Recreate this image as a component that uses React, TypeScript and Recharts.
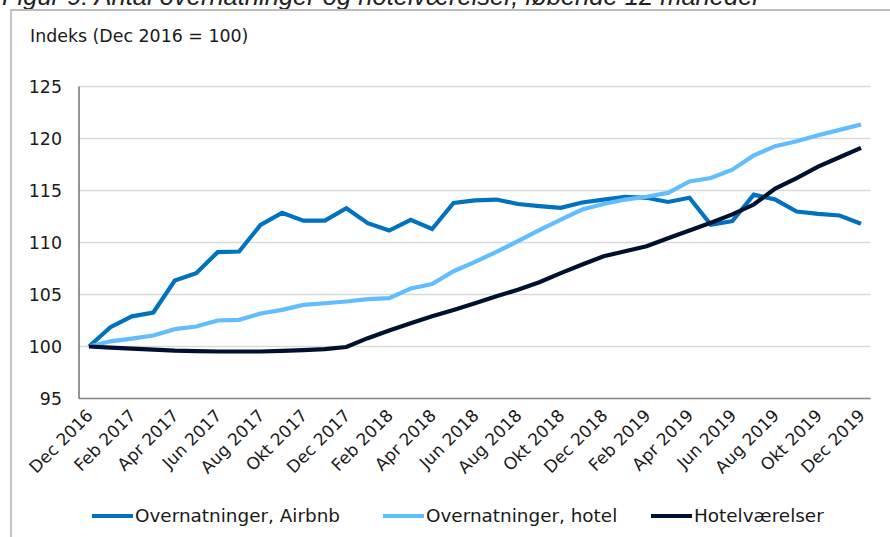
import React from "react";
import { LineChart, Line, XAxis, YAxis, CartesianGrid } from "recharts";

const months = [
  "Dec 2016", "Jan 2017", "Feb 2017", "Mar 2017", "Apr 2017", "Maj 2017", "Jun 2017", "Jul 2017",
  "Aug 2017", "Sep 2017", "Okt 2017", "Nov 2017", "Dec 2017", "Jan 2018", "Feb 2018", "Mar 2018",
  "Apr 2018", "Maj 2018", "Jun 2018", "Jul 2018", "Aug 2018", "Sep 2018", "Okt 2018", "Nov 2018",
  "Dec 2018", "Jan 2019", "Feb 2019", "Mar 2019", "Apr 2019", "Maj 2019", "Jun 2019", "Jul 2019",
  "Aug 2019", "Sep 2019", "Okt 2019", "Nov 2019", "Dec 2019",
];

const airbnb = [
  100, 101.86, 102.9, 103.27, 106.35, 107.05, 109.07, 109.13, 111.7, 112.85, 112.1, 112.1, 113.3,
  111.86, 111.15, 112.18, 111.3, 113.8, 114.05, 114.13, 113.7, 113.5, 113.33, 113.85, 114.13, 114.4,
  114.3, 113.9, 114.3, 111.7, 112.05, 114.6, 114.13, 112.98, 112.75, 112.6, 111.8,
];

const hotel = [
  100, 100.5, 100.75, 101.06, 101.67, 101.92, 102.5, 102.56, 103.17, 103.52, 104.0, 104.16, 104.33,
  104.55, 104.65, 105.58, 106.0, 107.24, 108.14, 109.1, 110.13, 111.2, 112.2, 113.17, 113.7, 114.13,
  114.4, 114.77, 115.87, 116.2, 117.0, 118.37, 119.26, 119.74, 120.32, 120.83, 121.35,
];

const rooms = [
  100, 99.9, 99.8, 99.7, 99.6, 99.55, 99.52, 99.52, 99.52, 99.58, 99.65, 99.75, 99.95, 100.8, 101.54,
  102.24, 102.92, 103.52, 104.16, 104.84, 105.45, 106.18, 107.05, 107.88, 108.68, 109.16, 109.64,
  110.41, 111.15, 111.9, 112.7, 113.65, 115.19, 116.2, 117.3, 118.2, 119.1,
];

const yTicks = [95, 100, 105, 110, 115, 120, 125];

const seriesNames = ["Overnatninger, Airbnb", "Overnatninger, hotel", "Hotelværelser"];
const seriesColors = ["#0072BF", "#62BDFF", "#00102F"];

const title = "Figur 9: Antal overnatninger og hotelværelser, løbende 12 måneder";
const axisTitle = "Indeks (Dec 2016 = 100)";

const data = months.map((m, i) => ({ m, a: airbnb[i], h: hotel[i], r: rooms[i] }));

const FONT = "'DejaVu Sans', sans-serif";

const XTick = (props: any) => {
  const { x, y, payload } = props;
  return (
    <text
      x={x + 5}
      y={y + 10}
      transform={`rotate(-45 ${x + 5} ${y + 10})`}
      textAnchor="end"
      fontFamily={FONT}
      fontSize={17}
      fill="#1a1a1a"
    >
      {payload.value}
    </text>
  );
};

const YTick = (props: any) => {
  const { y, payload } = props;
  return (
    <text x={62} y={y + 6} textAnchor="end" fontFamily={FONT} fontSize={17.4} fill="#1a1a1a">
      {payload.value}
    </text>
  );
};

const legendPos = [92, 383, 651];

export default function App() {
  return (
    <div style={{ position: "absolute", left: 0, top: 0, width: 890, height: 537, background: "#fff", overflow: "hidden" }}>
      <div
        style={{
          position: "absolute",
          left: 2,
          top: -16,
          fontFamily: "'Liberation Sans', Arial, sans-serif",
          fontStyle: "italic",
          fontSize: 25.5,
          lineHeight: "25px",
          color: "#222",
          whiteSpace: "nowrap",
        }}
      >
        {title}
      </div>
      <div style={{ position: "absolute", left: 10, top: 9, width: 880, height: 2, background: "#BDBDBD" }} />
      <div style={{ position: "absolute", left: 10, top: 9, width: 1.5, height: 528, background: "#C4C4C4" }} />
      <div
        style={{
          position: "absolute",
          left: 30,
          top: 26,
          fontFamily: FONT,
          fontSize: 17.4,
          lineHeight: "20px",
          color: "#1a1a1a",
          whiteSpace: "nowrap",
        }}
      >
        {axisTitle}
      </div>
      <div style={{ position: "absolute", left: 0, top: 0 }}>
        <LineChart width={890} height={537} data={data} margin={{ top: 86.5, right: 19.5, bottom: 0, left: 0 }}>
          <CartesianGrid horizontal vertical={false} stroke="#D9D9D9" strokeWidth={1.3} />
          <XAxis
            dataKey="m"
            interval={1}
            padding={{ left: 10, right: 9.5 }}
            tickLine={false}
            axisLine={{ stroke: "#8C8C8C", strokeWidth: 1.5 }}
            tick={<XTick />}
            height={138.5}
          />
          <YAxis
            domain={[95, 125]}
            ticks={yTicks}
            width={79}
            tickLine={false}
            axisLine={{ stroke: "#5A5A5A", strokeWidth: 1.3 }}
            tick={<YTick />}
          />
          <Line dataKey="a" stroke={seriesColors[0]} strokeWidth={4.2} dot={false} isAnimationActive={false} />
          <Line dataKey="h" stroke={seriesColors[1]} strokeWidth={4.2} dot={false} isAnimationActive={false} />
          <Line dataKey="r" stroke={seriesColors[2]} strokeWidth={4.2} dot={false} isAnimationActive={false} />
        </LineChart>
      </div>
      {seriesNames.map((n, i) => (
        <div
          key={n}
          style={{
            position: "absolute",
            left: legendPos[i],
            top: 505,
            height: 22,
            display: "flex",
            alignItems: "center",
            whiteSpace: "nowrap",
          }}
        >
          <div style={{ width: 41, height: 4, background: seriesColors[i], marginRight: 2 }} />
          <span style={{ fontFamily: FONT, fontSize: 18.4, color: "#1a1a1a", lineHeight: "22px" }}>{n}</span>
        </div>
      ))}
    </div>
  );
}
